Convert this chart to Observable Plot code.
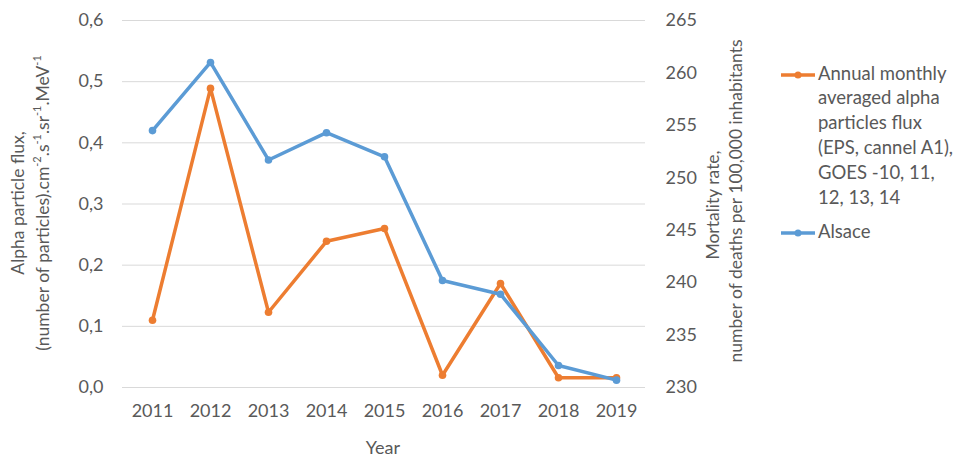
<!DOCTYPE html>
<html>
<head>
<meta charset="utf-8">
<script src="https://cdn.jsdelivr.net/npm/d3@7"></script>
<script src="https://cdn.jsdelivr.net/npm/@observablehq/plot@0.6"></script>
<style>
  html, body { margin: 0; padding: 0; background: #fff; }
  #chart { width: 960px; height: 460px; }
</style>
</head>
<body>
<div id="chart"></div>
<script>
const years = ["2011","2012","2013","2014","2015","2016","2017","2018","2019"];
const alphaFlux = [0.11, 0.489, 0.123, 0.239, 0.26, 0.02, 0.17, 0.016, 0.016];
const alsaceMortality = [254.5, 261.0, 251.7, 254.3, 252.0, 240.2, 238.9, 232.1, 230.7];
const leftTicks = [0, 0.1, 0.2, 0.3, 0.4, 0.5, 0.6];
const rightTicks = [230, 235, 240, 245, 250, 255, 260, 265];
const legendOrange = ["Annual monthly", "averaged alpha", "particles flux", "(EPS, cannel A1),", "GOES -10, 11,", "12, 13, 14"];
const legendBlue = "Alsace";

const ORANGE = "#ED7D31", BLUE = "#5B9BD5", TEXT = "#595959";
const rMin = 230, rMax = 265, lMax = 0.6;
const toLeft = v => (v - rMin) / (rMax - rMin) * lMax;
const fromLeft = v => rMin + v / lMax * (rMax - rMin);

const orangeData = years.map((y, i) => ({year: y, v: alphaFlux[i]}));
const blueData = years.map((y, i) => ({year: y, v: toLeft(alsaceMortality[i])}));

const font = "Lato, 'Open Sans', sans-serif";
const plot = Plot.plot({
  width: 960, height: 460,
  marginLeft: 122, marginRight: 315, marginTop: 20, marginBottom: 73,
  style: {fontSize: "18px", fontFamily: font, color: TEXT, background: "#fff"},
  x: {type: "point", domain: years, padding: 0.5},
  y: {domain: [0, lMax]},
  marks: [
    Plot.gridY(leftTicks, {stroke: "#d9d9d9", strokeOpacity: 1, strokeWidth: 1}),
    Plot.axisY(leftTicks, {tickSize: 0, tickPadding: 19, tickFormat: d => d.toFixed(1).replace(".", ","), label: null}),
    Plot.axisY(rightTicks.map(toLeft), {anchor: "right", tickSize: 0, tickPadding: 20, tickFormat: d => String(Math.round(fromLeft(d))), label: null, textAnchor: "start"}),
    Plot.axisX({tickSize: 0, tickPadding: 17, label: null}),
    Plot.line(orangeData, {x: "year", y: "v", stroke: ORANGE, strokeWidth: 3.5}),
    Plot.dot(orangeData, {x: "year", y: "v", fill: ORANGE, r: 3.8}),
    Plot.line(blueData, {x: "year", y: "v", stroke: BLUE, strokeWidth: 3.5}),
    Plot.dot(blueData, {x: "year", y: "v", fill: BLUE, r: 3.8})
  ]
});
document.getElementById("chart").appendChild(plot);

const svg = d3.select(plot);
const g = svg.append("g").attr("fill", TEXT).attr("font-family", font).attr("font-size", 17.5).attr("text-anchor", "middle");

// X axis title
g.append("text").attr("x", 383).attr("y", 449).attr("font-size", 18).attr("dominant-baseline", "middle").text("Year");

// Left axis title
g.append("text").attr("transform", "translate(20,203) rotate(-90)").attr("dominant-baseline", "middle").text("Alpha particle flux,");
const lt2 = g.append("text").attr("transform", "translate(45,203) rotate(-90)").attr("dominant-baseline", "middle");
const parts = [["(number of particles).cm", false], ["-2", true], [".s", false], ["-1", true], [".sr", false], ["-1", true], [".MeV", false], ["-1", true]];
parts.forEach(([t, sup]) => {
  const ts = lt2.append("tspan").text(t);
  if (sup) ts.attr("baseline-shift", "super").attr("font-size", 11);
});

// Right axis title
g.append("text").attr("transform", "translate(715,205) rotate(-90)").attr("dominant-baseline", "middle").text("Mortality rate,");
g.append("text").attr("transform", "translate(738,201) rotate(-90)").attr("dominant-baseline", "middle").text("number of deaths per 100,000 inhabitants");

// Legend
const lg = svg.append("g").attr("font-family", font).attr("font-size", 18.5).attr("fill", TEXT).attr("text-anchor", "start");
function legendItem(y, color) {
  lg.append("line").attr("x1", 781).attr("x2", 815).attr("y1", y).attr("y2", y).attr("stroke", color).attr("stroke-width", 3.5);
  lg.append("circle").attr("cx", 798).attr("cy", y).attr("r", 3.5).attr("fill", color);
}
legendItem(75, ORANGE);
legendOrange.forEach((t, i) => {
  lg.append("text").attr("x", 818).attr("y", 75 + i * 24.8).attr("dominant-baseline", "middle").text(t);
});
legendItem(233, BLUE);
lg.append("text").attr("x", 818).attr("y", 233).attr("dominant-baseline", "middle").text(legendBlue);
</script>
</body>
</html>
